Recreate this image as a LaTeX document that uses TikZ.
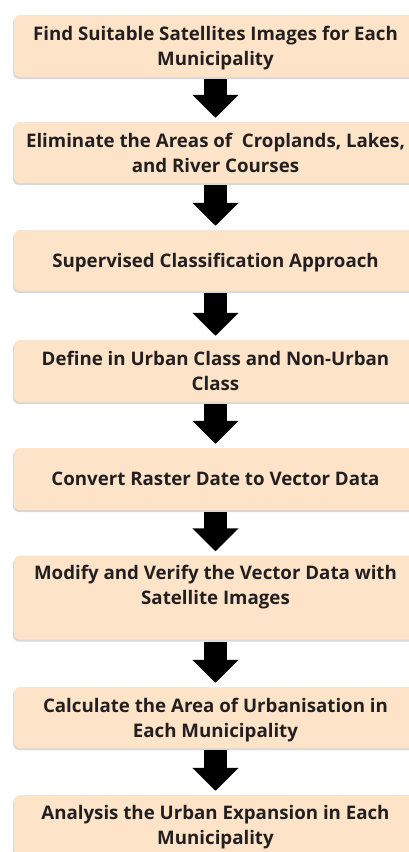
\documentclass[tikz,border=0pt]{standalone}
\usepackage{fontspec}
\setmainfont{Open Sans}
\usetikzlibrary{arrows.meta}
\usetikzlibrary{shadows}
\definecolor{peach}{HTML}{FDE4C9}
\definecolor{ink}{HTML}{231F20}

\begin{document}
\begin{tikzpicture}[x=1pt,y=-1pt]
\tikzstyle{every node}=[rectangle,rounded corners=6pt,fill=peach,text=ink,align=center,
  font=\bfseries\fontsize{18.7}{25}\selectfont,minimum width=403pt,inner sep=0pt,text depth=-2pt,
  drop shadow={fill=black!30,shadow xshift=-1pt,shadow yshift=-2pt}]
\tikzstyle{flow}=[line width=23pt,-{Triangle[width=45pt,length=23pt]},shorten <=2pt,shorten >=4pt]
\useasboundingbox (0,0) rectangle (409,852);
\clip (0,0) rectangle (409,852);
\fill [white] (0,0) rectangle (409,852);
\node (a) at (215.5,46) [minimum height=62pt] {Find Suitable Satellites Images for Each\\Municipality};
\node (b) at (215.5,152.5) [minimum height=61pt] {Eliminate the Areas of \ Croplands, Lakes,\\and River Courses};
\node (c) at (215.5,260.5) [minimum height=61pt] {Supervised Classification Approach};
\node (d) at (215.5,371) [minimum height=62pt] {Define in Urban Class and Non-Urban\\Class};
\node (e) at (215.5,479) [minimum height=62pt] {Convert Raster Date to Vector Data};
\node (f) at (215.5,597.5) [minimum height=84pt] {Modify and Verify the Vector Data with\\Satellite Images\\ \mbox{}};
\node (g) at (215.5,717.5) [minimum height=61pt] {Calculate the Area of Urbanisation in\\Each Municipality};
\node (h) at (215.5,825) [minimum height=60pt] {Analysis the Urban Expansion in Each\\Municipality};
\draw [flow] (a) -- (b);
\draw [flow] (b) -- (c);
\draw [flow] (c) -- (d);
\draw [flow] (d) -- (e);
\draw [flow] (e) -- (f);
\draw [flow] (f) -- (g);
\draw [flow] (g) -- (h);
\end{tikzpicture}
\end{document}
